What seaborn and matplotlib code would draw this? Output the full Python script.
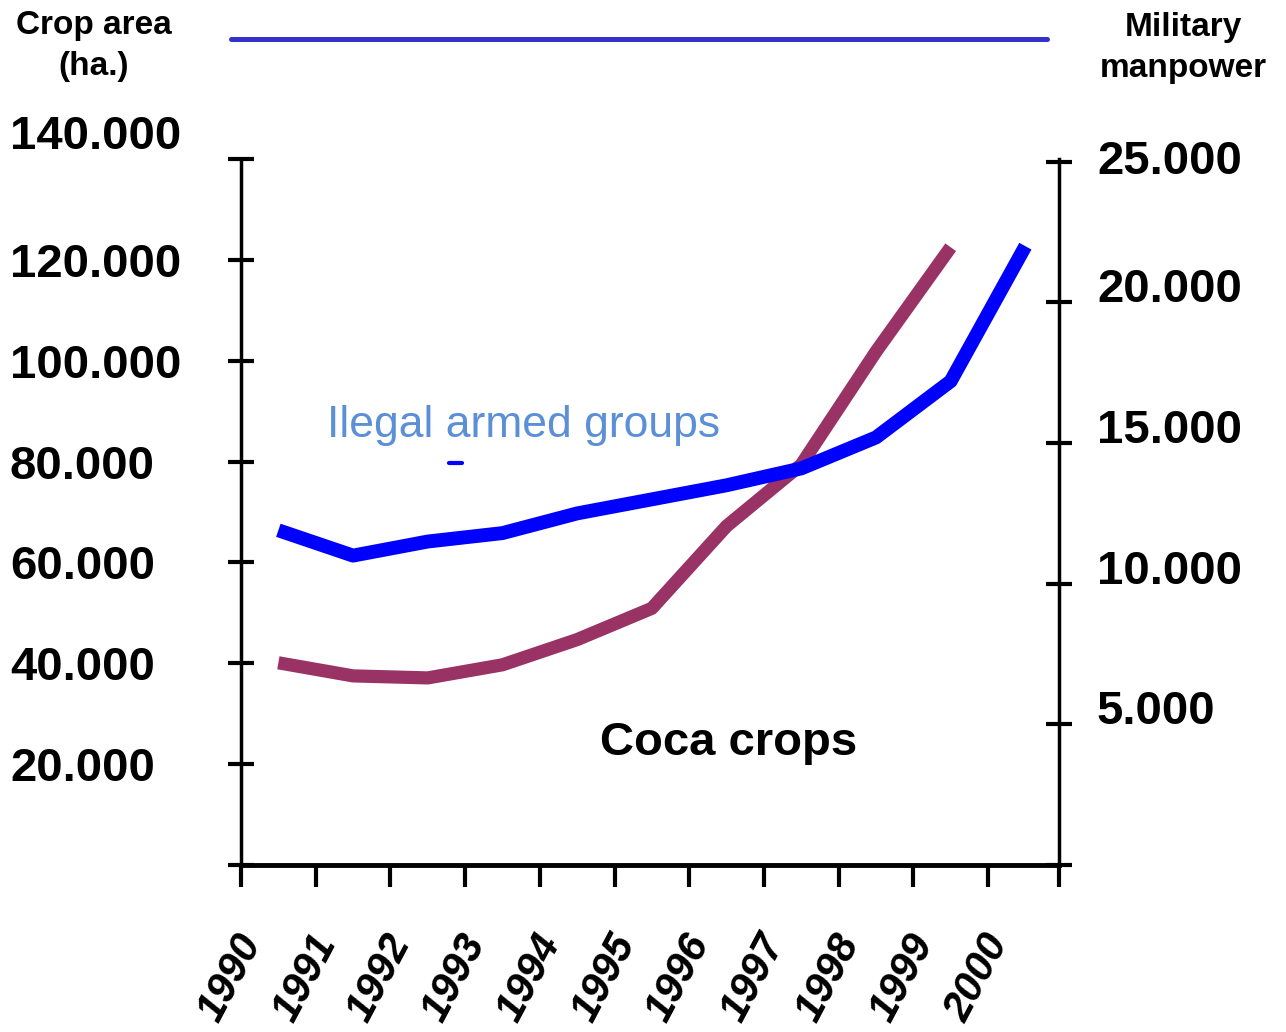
import numpy as np
import pandas as pd
import matplotlib
matplotlib.use('Agg')
import matplotlib.pyplot as plt
import matplotlib.transforms as mtransforms
from matplotlib.lines import Line2D
import seaborn as sns

# data
years = ['1990', '1991', '1992', '1993', '1994', '1995', '1996', '1997', '1998', '1999', '2000']
coca_ha = [40100, 37500, 37100, 39700, 44700, 50900, 67200, 79400, 101800, 122500]
armed_men = [11900, 11000, 11500, 11800, 12500, 13000, 13500, 14100, 15200, 17200, 22000]
left_ticks = [0, 20000, 40000, 60000, 80000, 100000, 120000, 140000]
right_ticks = [0, 5000, 10000, 15000, 20000, 25000]


def fmt(v):
    return f'{v:,}'.replace(',', '.')


sns.set_style('white')
plt.rcParams['font.family'] = ['Liberation Sans', 'DejaVu Sans']
plt.rcParams['text.color'] = 'black'
plt.rcParams['xtick.color'] = 'black'
plt.rcParams['ytick.color'] = 'black'

fig = plt.figure(figsize=(12.86, 10.32), dpi=100)
ax = fig.add_axes([241 / 1286, 167 / 1032, 818 / 1286, 706 / 1032])
ax2 = ax.twinx()

# points sit in the middle of each year slot
coca_df = pd.DataFrame({'pos': np.arange(len(coca_ha)) + 0.5, 'ha': coca_ha})
armed_df = pd.DataFrame({'pos': np.arange(len(armed_men)) + 0.5, 'men': armed_men})

sns.lineplot(data=coca_df, x='pos', y='ha', ax=ax, color='#993366', lw=9.5,
             solid_capstyle='butt')
sns.lineplot(data=armed_df, x='pos', y='men', ax=ax2, color='#0000FF', lw=10,
             solid_capstyle='butt')

xend = 10.95
ax.set_xlim(0, xend)
ax2.set_xlim(0, xend)
ax.set_ylim(0, 140000)
ax2.set_ylim(0, 25100)
for a in (ax, ax2):
    a.set_xlabel('')
    a.set_ylabel('')
    a.grid(False)

# x axis
ax.set_xticks(list(range(len(years))) + [xend])
ax.set_xticklabels(years + [''], rotation=62, ha='right', va='center',
                   rotation_mode='anchor', fontweight='bold', fontstyle='italic')
ax.tick_params(axis='x', direction='out', length=16, width=3, color='black',
               pad=36, labelsize=30, bottom=True, labelcolor='black')
off = mtransforms.ScaledTranslation(8 / 72, 0, fig.dpi_scale_trans)
for lbl in ax.get_xticklabels():
    lbl.set_transform(lbl.get_transform() + off)

# left axis
ax.set_yticks(left_ticks)
ax.set_yticklabels([''] + [fmt(v) for v in left_ticks[1:]], ha='left', fontweight='bold')
ax.tick_params(axis='y', direction='inout', length=18.7, width=3, color='black',
               pad=157, labelsize=34, left=True, labelcolor='black')
ax.get_yticklabels()[-1].set_va('bottom')

# right axis
ax2.set_yticks(right_ticks)
ax2.set_yticklabels([''] + [fmt(v) for v in right_ticks[1:]], va='baseline', fontweight='bold')
ax2.tick_params(axis='y', direction='inout', length=18.7, width=3, color='black',
                pad=18, labelsize=34, right=True, labelcolor='black')
ax2.get_yticklabels()[-1].set_va('center')

for s in ['top', 'right']:
    ax.spines[s].set_visible(False)
for s in ['top', 'left', 'bottom']:
    ax2.spines[s].set_visible(False)
ax.spines['left'].set_linewidth(2.5)
ax.spines['bottom'].set_linewidth(3.5)
ax2.spines['right'].set_linewidth(2.5)
for sp in (ax.spines['left'], ax.spines['bottom'], ax2.spines['right']):
    sp.set_color('black')

# titles and annotations
fig.text(94 / 1286, 1 - 46 / 1032, 'Crop area\n(ha.)', ha='center', va='center',
         fontsize=24, fontweight='bold', linespacing=1.4)
fig.text(1183 / 1286, 1 - 48 / 1032, 'Military\nmanpower', ha='center', va='center',
         fontsize=24, fontweight='bold', linespacing=1.4)
fig.text(327 / 1286, 1 - 425 / 1032, 'Ilegal armed groups', ha='left', va='center',
         fontsize=32, color='#5b8fd6')
fig.text(600 / 1286, 1 - 743 / 1032, 'Coca crops', ha='left', va='center',
         fontsize=34, fontweight='bold', color='black')

fig.add_artist(Line2D([231 / 1286, 1047 / 1286], [1 - 39 / 1032] * 2,
                      transform=fig.transFigure, color='#3333CC', lw=3.6))
fig.add_artist(Line2D([449 / 1286, 462 / 1286], [1 - 463 / 1032] * 2,
                      transform=fig.transFigure, color='#0000FF', lw=3))

fig.savefig('out.png', dpi=100)
